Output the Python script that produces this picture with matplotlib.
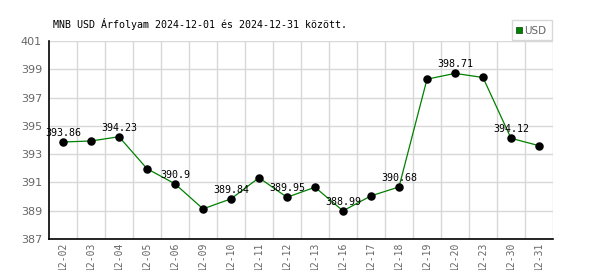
import matplotlib
matplotlib.use("Agg")
import matplotlib.pyplot as plt
from matplotlib.patches import Rectangle

dates = ["12-02", "12-03", "12-04", "12-05", "12-06", "12-09", "12-10", "12-11", "12-12",
         "12-13", "12-16", "12-17", "12-18", "12-19", "12-20", "12-23", "12-30", "12-31"]
usd = [393.86, 393.93, 394.23, 391.97, 390.90, 389.13, 389.84, 391.33, 389.95,
       390.66, 388.99, 390.05, 390.68, 398.30, 398.71, 398.42, 394.12, 393.60]
yticks = [387, 389, 391, 393, 395, 397, 399, 401]
title = "MNB USD Árfolyam 2024-12-01 és 2024-12-31 között."

W, H = 600, 270
fig = plt.figure(figsize=(W / 100, H / 100), dpi=100)
x0, x1, ytop, ybot = 49, 553, 41, 239
ax = fig.add_axes([x0 / W, 1 - ybot / H, (x1 - x0) / W, (ybot - ytop) / H])

mono = "DejaVu Sans Mono"
xs = list(range(len(dates)))
ax.plot(xs, usd, color="#008000", lw=0.9, zorder=3)
ax.scatter(xs, usd, s=26, color="black", zorder=4)
for i in range(0, len(dates), 2):
    ax.annotate(f"{usd[i]:g}", (xs[i], usd[i]), xytext=(0, 3), textcoords="offset points",
                ha="center", va="bottom", fontsize=7.2, family=mono, zorder=5)

ax.set_xlim(-0.5, len(dates) - 0.5)
ax.set_ylim(387, 401)
ax.set_yticks(yticks)
ax.set_yticklabels([str(v) for v in yticks], color="#666666", fontsize=8)
ax.set_xticks(xs)
ax.set_xticklabels(dates, rotation=90, color="#666666", fontsize=7, family=mono)
ax.set_xticks([i - 0.5 for i in range(1, len(dates) + 1)], minor=True)
ax.grid(which="minor", axis="x", color="#d8d8d8", lw=1)
ax.grid(which="major", axis="y", color="#d8d8d8", lw=1)
ax.tick_params(axis="both", which="both", length=0)
ax.tick_params(axis="y", pad=5)
ax.tick_params(axis="x", pad=2)
for s in ["top", "right"]:
    ax.spines[s].set_visible(False)
for s in ["left", "bottom"]:
    ax.spines[s].set_color("black")
    ax.spines[s].set_linewidth(1.2)
ax.set_axisbelow(True)

fig.text(53 / W, 1 - 24 / H, title, fontsize=7.2, family=mono, va="center", ha="left")

# legend box
lx, ly, lw_, lh = 512, 20, 40, 20
fig.patches.append(Rectangle((lx / W, 1 - (ly + lh) / H), lw_ / W, lh / H, transform=fig.transFigure,
                             facecolor="white", edgecolor="#d8d8d8", lw=1))
fig.patches.append(Rectangle((516 / W, 1 - 33 / H), 6 / W, 6 / H, transform=fig.transFigure,
                             facecolor="#008000", edgecolor="#004000", lw=0.5))
fig.text(524 / W, 1 - 30.5 / H, "USD", fontsize=7.5, color="#666666", va="center", ha="left")

fig.savefig("out.png", dpi=100)
